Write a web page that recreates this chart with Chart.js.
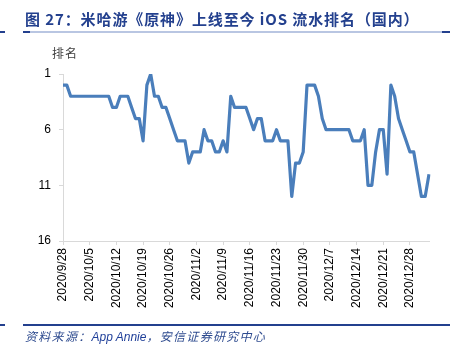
<!DOCTYPE html>
<html>
<head>
<meta charset="utf-8">
<script src="https://cdn.jsdelivr.net/npm/chart.js@4"></script>
<style>
  html, body { margin:0; padding:0; background:#fff; }
  #wrap { position:relative; width:459px; height:354px; overflow:hidden; }
  #title { position:absolute; left:25px; top:10px; font-family:"Noto Sans CJK SC","Liberation Sans",sans-serif; font-weight:bold; font-size:15px; color:#23408E; letter-spacing:0.9px; white-space:nowrap; line-height:18px; }
  #ylab { position:absolute; left:52px; top:45px; font-family:"Noto Sans CJK SC",sans-serif; font-size:12px; color:#404040; letter-spacing:1px; line-height:16px; }
  #source { position:absolute; left:25px; top:328px; font-family:"Noto Sans CJK SC",sans-serif; font-style:italic; font-size:12px; color:#2E4B8F; letter-spacing:1.3px; white-space:nowrap; line-height:16px; }
  #source .en { font-family:"Liberation Sans",sans-serif; color:#1F3F99; letter-spacing:0; }
  .ln { position:absolute; }
  canvas { position:absolute; left:0; top:0; }
</style>
</head>
<body>
<div id="wrap">
  <canvas id="c" width="459" height="354"></canvas>
  <div class="ln" style="left:0;top:31px;width:5px;height:2px;background:#23408E"></div>
  <div class="ln" style="left:23px;top:31px;width:427px;height:2px;background:#B9C6E2"></div>
  <div class="ln" style="left:23px;top:31px;width:7px;height:2px;background:#23408E"></div>
  <div class="ln" style="left:442px;top:31px;width:8px;height:2px;background:#23408E"></div>
  <div id="title">图 27：米哈游《原神》上线至今 iOS 流水排名（国内）</div>
  <div id="ylab">排名</div>
  <div class="ln" style="left:0;top:324px;width:5px;height:2px;background:#23408E"></div>
  <div class="ln" style="left:23px;top:324px;width:427px;height:2px;background:#23408E"></div>
  <div id="source">资料来源：<span class="en">App Annie</span>，安信证券研究中心</div>
</div>
<script>
const categories = [
  "2020/9/28","2020/9/29","2020/9/30",
  "2020/10/1","2020/10/2","2020/10/3","2020/10/4","2020/10/5","2020/10/6","2020/10/7","2020/10/8","2020/10/9","2020/10/10",
  "2020/10/11","2020/10/12","2020/10/13","2020/10/14","2020/10/15","2020/10/16","2020/10/17","2020/10/18","2020/10/19","2020/10/20",
  "2020/10/21","2020/10/22","2020/10/23","2020/10/24","2020/10/25","2020/10/26","2020/10/27","2020/10/28","2020/10/29","2020/10/30","2020/10/31",
  "2020/11/1","2020/11/2","2020/11/3","2020/11/4","2020/11/5","2020/11/6","2020/11/7","2020/11/8","2020/11/9","2020/11/10",
  "2020/11/11","2020/11/12","2020/11/13","2020/11/14","2020/11/15","2020/11/16","2020/11/17","2020/11/18","2020/11/19","2020/11/20",
  "2020/11/21","2020/11/22","2020/11/23","2020/11/24","2020/11/25","2020/11/26","2020/11/27","2020/11/28","2020/11/29","2020/11/30",
  "2020/12/1","2020/12/2","2020/12/3","2020/12/4","2020/12/5","2020/12/6","2020/12/7","2020/12/8","2020/12/9","2020/12/10",
  "2020/12/11","2020/12/12","2020/12/13","2020/12/14","2020/12/15","2020/12/16","2020/12/17","2020/12/18","2020/12/19","2020/12/20",
  "2020/12/21","2020/12/22","2020/12/23","2020/12/24","2020/12/25","2020/12/26","2020/12/27","2020/12/28","2020/12/29","2020/12/30","2020/12/31",
  "2021/1/1","2021/1/2"
];
const ranks = [
  2,2,3,3,3,3,3,3,3,3,
  3,3,3,4,4,3,3,3,4,5,
  5,7,2,1,3,3,4,4,5,6,
  7,7,7,9,8,8,8,6,7,7,
  8,8,7,8,3,4,4,4,4,5,
  6,5,5,7,7,7,6,7,7,7,
  12,9,9,8,2,2,2,3,5,6,
  6,6,6,6,6,6,7,7,7,6,
  11,11,8,6,6,10,2,3,5,6,
  7,8,8,10,12,12,10
];
const yTicks = [1, 6, 11, 16];
const labelEvery = 7;

new Chart(document.getElementById('c'), {
  type: 'line',
  data: {
    labels: categories,
    datasets: [{
      data: ranks,
      borderColor: '#4A7EBB',
      borderWidth: 3.2,
      pointRadius: 0,
      tension: 0,
      borderJoinStyle: 'round',
      borderCapStyle: 'butt',
      fill: false
    }]
  },
  options: {
    responsive: false,
    animation: false,
    devicePixelRatio: 1,
    layout: { padding: { top: 74, right: 30, bottom: 43, left: 0 } },
    plugins: { legend: { display: false }, tooltip: { enabled: false } },
    scales: {
      x: {
        type: 'category',
        offset: false,
        afterBuildTicks: (s) => { s.ticks = s.ticks.filter((t, i) => i % labelEvery === 0); },
        afterFit: (s) => { s.height = 70; },
        grid: { display: true, drawOnChartArea: false, drawTicks: true, tickLength: 4, color: '#D9D9D9' },
        border: { display: true, color: '#D9D9D9', width: 1 },
        ticks: {
          autoSkip: false, maxRotation: 90, minRotation: 90, padding: 3,
          color: '#000', font: { family: 'Liberation Sans', size: 12 }
        }
      },
      y: {
        reverse: true,
        min: 1, max: 16,
        afterBuildTicks: (s) => { s.ticks = yTicks.map(v => ({ value: v })); },
        afterFit: (s) => { s.width = 63; },
        grid: { display: true, drawOnChartArea: false, drawTicks: true, tickLength: 4, color: '#D9D9D9' },
        border: { display: true, color: '#D9D9D9', width: 1 },
        ticks: { padding: 8, color: '#000', font: { family: 'Liberation Sans', size: 12 } }
      }
    }
  }
});
</script>
</body>
</html>
